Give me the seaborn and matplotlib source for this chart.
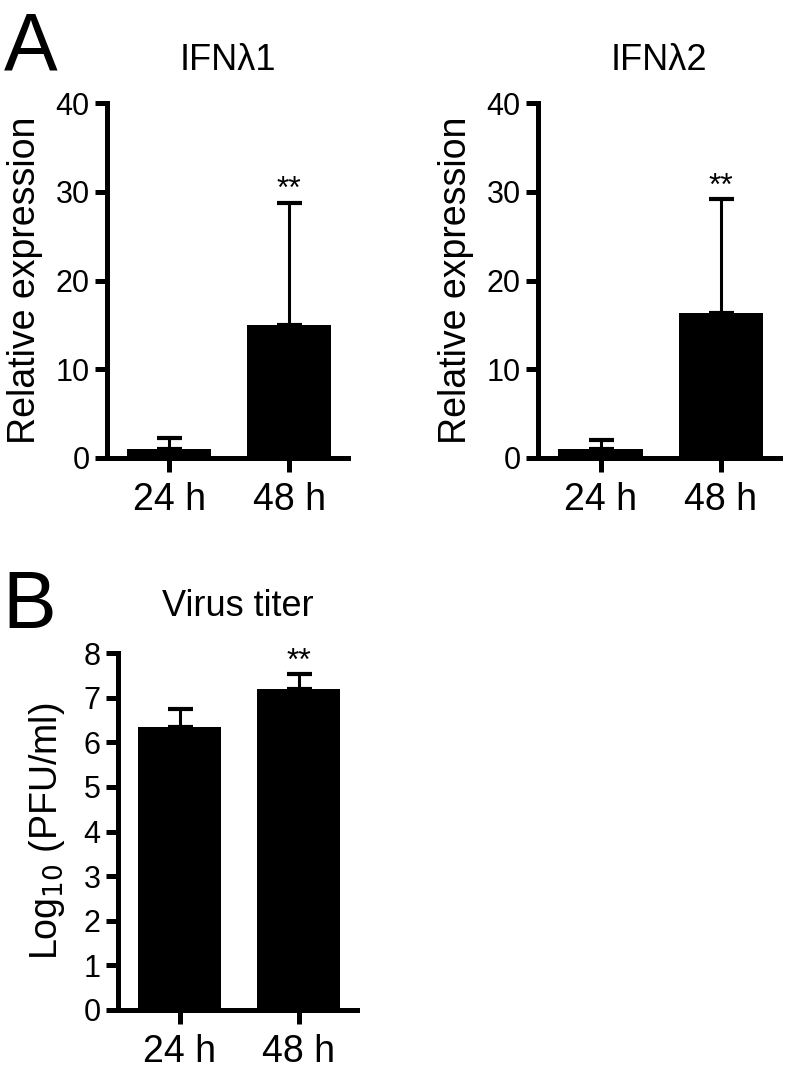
import matplotlib
matplotlib.use("Agg")
import matplotlib.pyplot as plt
import seaborn as sb
import numpy as np

# values
times = ["24 h", "48 h"]
ifnl1_mean = [1.0, 15.0]
ifnl1_err = [1.3, 13.8]
ifnl2_mean = [1.0, 16.4]
ifnl2_err = [1.0, 12.8]
titer_mean = [6.35, 7.2]
titer_err = [0.4, 0.32]
stars = ["", "**"]

sb.set_style("ticks")
plt.rcParams['font.family'] = ['Liberation Sans', 'DejaVu Sans']
plt.rcParams['axes.edgecolor'] = 'black'
plt.rcParams['text.color'] = 'black'
plt.rcParams['axes.labelcolor'] = 'black'
plt.rcParams['xtick.color'] = 'black'
plt.rcParams['ytick.color'] = 'black'
plt.rcParams['axes.linewidth'] = 3.6
plt.rcParams['xtick.major.width'] = 3.6
plt.rcParams['ytick.major.width'] = 3.6
plt.rcParams['xtick.major.size'] = 10
plt.rcParams['ytick.major.size'] = 8.5
plt.rcParams['xtick.major.pad'] = 7
plt.rcParams['ytick.major.pad'] = 4


def bar_panel(ax, means, errs, title, ylabel, ylim, yticks, title_pad, lpad):
    sb.barplot(x=times, y=means, color="black", saturation=1, width=0.7,
               linewidth=0, errorbar=None, ax=ax)
    ax.errorbar(range(len(means)), means, yerr=[np.zeros(len(errs)), errs],
                fmt="none", ecolor="black", elinewidth=2.2, capsize=9, capthick=3)
    for i, s in enumerate(stars):
        if s:
            ax.text(i, means[i] + errs[i] - ylim[1] * 0.008, s, ha="center",
                    va="bottom", fontsize=23)
    ax.set_xlim(-0.52, 1.49)
    ax.set_ylim(*ylim)
    ax.set_yticks(yticks)
    ax.tick_params(axis="y", labelsize=22)
    ax.tick_params(axis="x", labelsize=27)
    ax.set_title(title, fontsize=26, pad=title_pad)
    ax.set_ylabel(ylabel, fontsize=27, labelpad=lpad)
    sb.despine(ax=ax)


fig = plt.figure(figsize=(7.85, 10.75), dpi=100)
ax1 = fig.add_axes([0.1363, 0.574, 0.307, 0.330])
ax2 = fig.add_axes([0.6854, 0.574, 0.308, 0.330])
ax3 = fig.add_axes([0.1503, 0.0605, 0.3045, 0.332])

bar_panel(ax1, ifnl1_mean, ifnl1_err, "IFNλ1", "Relative expression",
          (0, 40), [0, 10, 20, 30, 40], 24, 9)
bar_panel(ax2, ifnl2_mean, ifnl2_err, "IFNλ2", "Relative expression",
          (0, 40), [0, 10, 20, 30, 40], 24, 9)
bar_panel(ax3, titer_mean, titer_err, "Virus titer", "Log$_{10}$ (PFU/ml)",
          (0, 8), list(range(0, 9)), 27, 12)

fig.text(0.005, 1 - 70 / 1075, "A", fontsize=58, va="baseline")
fig.text(0.003, 1 - 628 / 1075, "B", fontsize=58, va="baseline")

fig.savefig("out.png", dpi=100)
